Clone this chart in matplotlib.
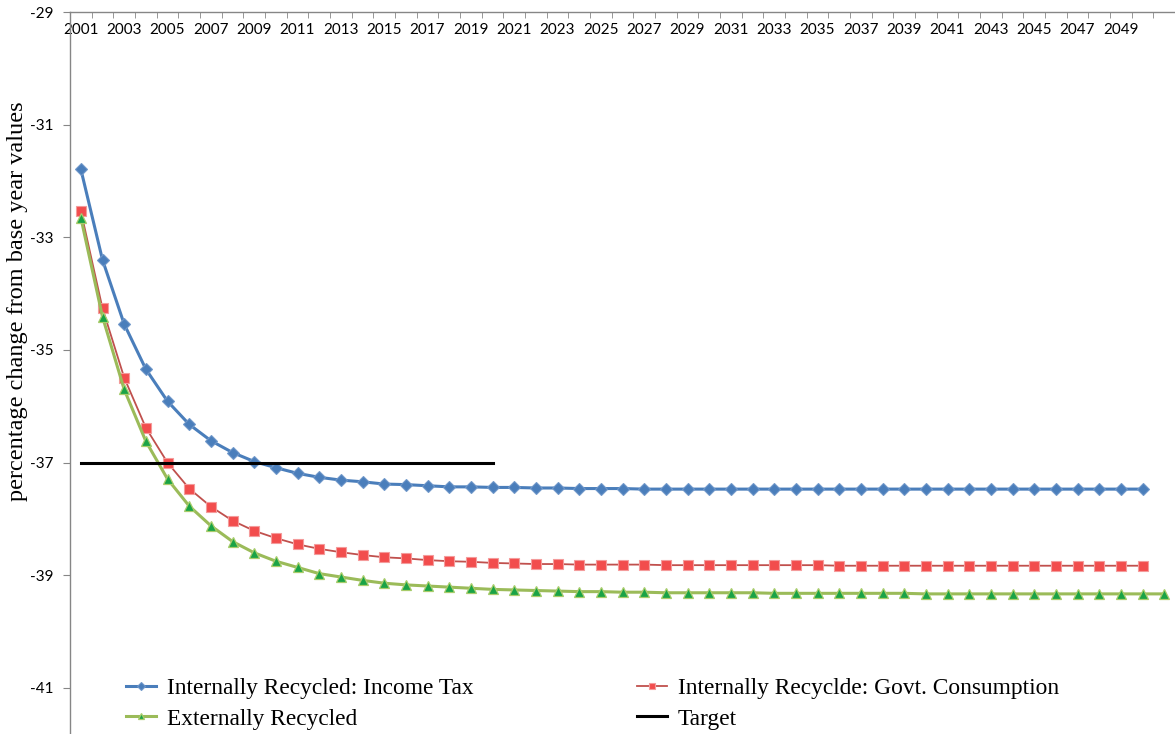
import numpy as np
import matplotlib
matplotlib.use("Agg")
import matplotlib.pyplot as plt

# years on the category axis
years = list(range(2001, 2051))
years_ext = list(range(2001, 2052))   # externally recycled series has one extra point

income_tax = [-31.79, -33.40, -34.54, -35.34, -35.91, -36.32, -36.61, -36.82, -36.98, -37.09,
              -37.19, -37.26, -37.31, -37.34, -37.38, -37.39, -37.41, -37.43, -37.43, -37.44,
              -37.44, -37.45, -37.45, -37.46, -37.46, -37.46, -37.47, -37.47, -37.47, -37.47,
              -37.47, -37.47, -37.47, -37.47, -37.47, -37.47, -37.47, -37.47, -37.47, -37.47,
              -37.47, -37.47, -37.47, -37.47, -37.47, -37.47, -37.47, -37.47, -37.47, -37.47]

govt_cons = [-32.53, -34.26, -35.49, -36.38, -37.00, -37.46, -37.78, -38.03, -38.21, -38.34,
             -38.45, -38.53, -38.59, -38.64, -38.68, -38.70, -38.73, -38.75, -38.76, -38.78,
             -38.79, -38.80, -38.80, -38.81, -38.81, -38.81, -38.81, -38.82, -38.82, -38.82,
             -38.82, -38.82, -38.82, -38.82, -38.82, -38.83, -38.83, -38.83, -38.83, -38.83,
             -38.83, -38.83, -38.83, -38.83, -38.83, -38.83, -38.83, -38.83, -38.83, -38.83]

external = [-32.65, -34.41, -35.70, -36.62, -37.29, -37.77, -38.12, -38.40, -38.60, -38.75,
            -38.86, -38.97, -39.03, -39.09, -39.14, -39.17, -39.19, -39.21, -39.23, -39.25,
            -39.26, -39.27, -39.28, -39.29, -39.29, -39.30, -39.30, -39.31, -39.31, -39.31,
            -39.31, -39.31, -39.32, -39.32, -39.32, -39.32, -39.32, -39.32, -39.32, -39.33,
            -39.33, -39.33, -39.33, -39.33, -39.33, -39.33, -39.33, -39.33, -39.33, -39.33,
            -39.33]

target_years = list(range(2001, 2021))
target = [-37.0] * len(target_years)

yticks = [-41, -39, -37, -35, -33, -31, -29]
xlabels = list(range(2001, 2050, 2))

fig = plt.figure(figsize=(11.75, 7.34), dpi=100)
ax = fig.add_axes([70 / 1175, 0.0, 1 - 70 / 1175, 1 - 12 / 734])

l1, = ax.plot(years, income_tax, color="#4a7ebb", lw=2.2, marker="D", ms=6,
              mfc="#4a7ebb", mec="#6f97c9", mew=0.8, label="Internally Recycled: Income Tax")
l2, = ax.plot(years, govt_cons, color="#c0504d", lw=1.3, marker="s", ms=7,
              mfc="#f24d4d", mec="#f49b9b", mew=0.8, label="Internally Recyclde: Govt. Consumption")
l3, = ax.plot(years_ext, external, color="#9bbb59", lw=2.2, marker="^", ms=7,
              mfc="#1aa346", mec="#a8cc6a", mew=0.9, label="Externally Recycled")
l4, = ax.plot(target_years, target, color="black", lw=2.2, label="Target")

ax.set_xlim(2000.5, 2051.5)
ax.set_ylim(-29 - 722 / 56.33, -29)

ax.set_yticks(yticks)
ax.set_yticklabels([str(v) for v in yticks], fontsize=11, family="Lato")
ax.tick_params(axis="y", direction="out", length=5, color="#868686", pad=7)

ax.set_xticks(xlabels)
ax.set_xticklabels([str(v) for v in xlabels], fontsize=11, family="Lato")
ax.set_xticks(np.arange(2001.5, 2051.5, 1), minor=True)
ax.tick_params(axis="x", which="major", top=True, labeltop=True, bottom=False,
               labelbottom=False, length=0, pad=-18)
ax.tick_params(axis="x", which="minor", top=True, bottom=False, direction="in",
               length=4, color="#868686")

for s in ["right", "bottom"]:
    ax.spines[s].set_visible(False)
for s in ["left", "top"]:
    ax.spines[s].set_color("#868686")
    ax.spines[s].set_linewidth(1.0)

ax.set_ylabel("percentage change from base year values", family="Liberation Serif",
              fontsize=17.5)
ax.yaxis.set_label_coords(-0.038, 0.6, transform=ax.transAxes)

lfont = {"family": "Liberation Serif", "size": 16.8}
common = dict(loc="upper left", frameon=False, prop=lfont, handlelength=1.3,
              handletextpad=0.45, labelspacing=0.38, borderpad=0, borderaxespad=0,
              markerscale=0.7)
leg1 = fig.legend([l1, l3], [l1.get_label(), l3.get_label()],
                  bbox_to_anchor=(126 / 1175, 1 - 678 / 734), **common)
leg2 = fig.legend([l2, l4], [l2.get_label(), l4.get_label()],
                  bbox_to_anchor=(637 / 1175, 1 - 678 / 734), **common)

fig.savefig("out.png", dpi=100)
